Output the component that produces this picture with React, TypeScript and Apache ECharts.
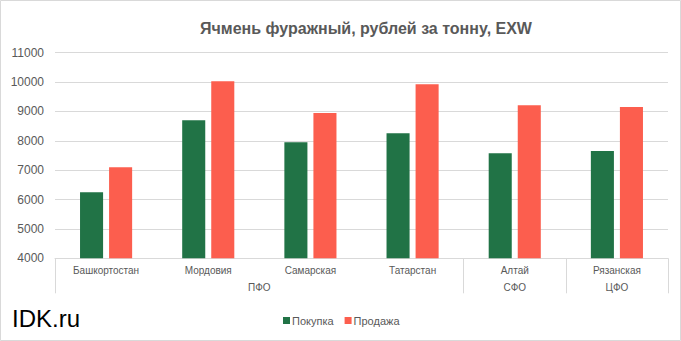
import React, { useEffect, useRef } from "react";
import * as echarts from "echarts";

const categories = ["Башкортостан", "Мордовия", "Самарская", "Татарстан", "Алтай", "Рязанская"];
const groupSlots = ["", "", "", "", "ПФО", "", "", "", "", "СФО", "", "ЦФО", ""];
const groupBoundarySlots = [0, 8, 10, 12];
const purchase = [6250, 8700, 7950, 8260, 7580, 7650];
const sale = [7100, 10030, 8950, 9930, 9210, 9150];
const seriesNames = ["Покупка", "Продажа"];
const titleText = "Ячмень фуражный, рублей за тонну, EXW";
const watermark = "IDK.ru";

const FONT = "'Liberation Sans', Arial, sans-serif";
const GRAY = "#595959";
const LINE = "#d9d9d9";

export default function App() {
  const ref = useRef<HTMLDivElement>(null);
  useEffect(() => {
    document.body.style.margin = "0";
    const chart = echarts.init(ref.current!, null, { renderer: "svg" });
    chart.setOption({
      animation: false,
      textStyle: { fontFamily: FONT },
      title: {
        text: titleText,
        left: 361,
        top: 15,
        textAlign: "center",
        textStyle: { fontSize: 16, fontWeight: "bold", color: GRAY, fontFamily: FONT },
      },
      legend: {
        data: seriesNames,
        left: 278,
        top: 310,
        itemWidth: 7,
        itemHeight: 7,
        itemGap: 11,
        icon: "rect",
        textStyle: { fontSize: 11, color: GRAY, padding: [0, 0, 0, -3] },
      },
      grid: { left: 55, right: 13, top: 52.7, bottom: 82.7, containLabel: false },
      xAxis: [
        {
          type: "category",
          data: categories,
          axisLine: { lineStyle: { color: LINE } },
          axisTick: { show: false },
          axisLabel: { fontSize: 10, color: GRAY, margin: 7, interval: 0 },
        },
        {
          type: "category",
          data: groupSlots,
          boundaryGap: false,
          position: "bottom",
          axisLine: { show: false },
          axisTick: {
            show: true,
            length: 35,
            interval: (i: number) => groupBoundarySlots.indexOf(i) >= 0,
            lineStyle: { color: LINE },
          },
          axisLabel: { fontSize: 10, color: GRAY, margin: 24, interval: 0 },
        },
      ],
      yAxis: {
        type: "value",
        min: 4000,
        max: 11000,
        interval: 1000,
        axisLine: { show: false },
        axisTick: { show: false },
        splitLine: { lineStyle: { color: LINE } },
        axisLabel: { fontSize: 12, color: GRAY, margin: 11, formatter: (v: number) => String(v) },
      },
      series: [
        {
          name: seriesNames[0],
          type: "bar",
          data: purchase,
          itemStyle: { color: "#217346" },
          barGap: "26%",
          barCategoryGap: "49%",
        },
        {
          name: seriesNames[1],
          type: "bar",
          data: sale,
          itemStyle: { color: "#FC5E4E" },
        },
      ],
      graphic: [
        {
          type: "rect",
          shape: { x: 0.5, y: 0.5, width: 680, height: 340 },
          style: { fill: "none", stroke: LINE, lineWidth: 1 },
          silent: true,
        },
        {
          type: "text",
          left: 12,
          top: 306,
          style: { text: watermark, fontSize: 24, fill: "#000", fontFamily: FONT },
        },
      ],
    });
    return () => chart.dispose();
  }, []);
  return <div ref={ref} style={{ width: 681, height: 341 }} />;
}
